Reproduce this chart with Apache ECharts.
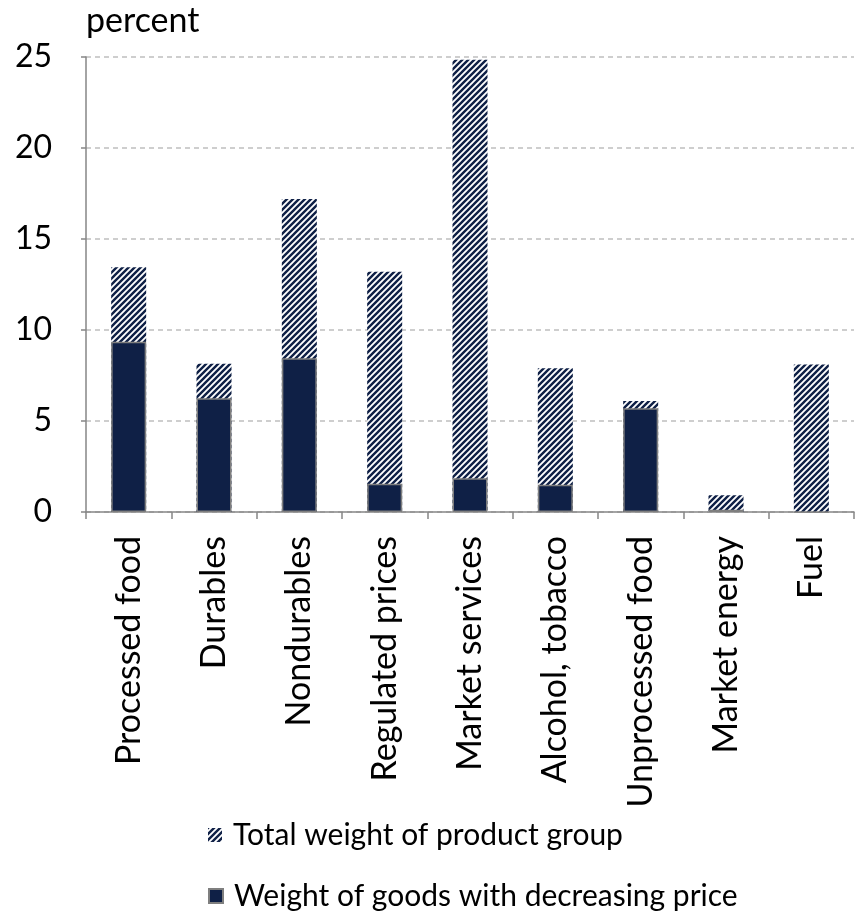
<!DOCTYPE html>
<html>
<head>
<meta charset="utf-8">
<script src="https://cdn.jsdelivr.net/npm/echarts@6/dist/echarts.min.js"></script>
<style>
  html, body { margin: 0; padding: 0; background: #fff; }
  #chart { width: 859px; height: 915px; }
</style>
</head>
<body>
<div id="chart"></div>
<script>
// categories and values
const categories = ['Processed food', 'Durables', 'Nondurables', 'Regulated prices', 'Market services',
    'Alcohol, tobacco', 'Unprocessed food', 'Market energy', 'Fuel']
const totalWeight = [13.45, 8.15, 17.2, 13.2, 24.85, 7.9, 6.1, 0.92, 8.1]
const decreasingWeight = [9.35, 6.25, 8.45, 1.55, 1.85, 1.5, 5.7, 0.12, 0]
const yTicks = [0, 5, 10, 15, 20, 25]

const navy = '#0f2046'
const font = 'Lato, "Open Sans", sans-serif'

// hatch pattern "/" for total weight bars
const makeHatch = () => {
    const s = 6
    const c = document.createElement('canvas')
    c.width = s
    c.height = s
    const ctx = c.getContext('2d')
    ctx.fillStyle = '#fff'
    ctx.fillRect(0, 0, s, s)
    ctx.strokeStyle = navy
    ctx.lineWidth = 2.4
    ctx.beginPath()
    ctx.moveTo(-1, s + 1); ctx.lineTo(s + 1, -1)
    ctx.moveTo(-1, 1); ctx.lineTo(1, -1)
    ctx.moveTo(s - 1, s + 1); ctx.lineTo(s + 1, s - 1)
    ctx.stroke()
    return c
}

const legendText = { fontSize: 30, color: '#000', fontFamily: font, padding: [0, 0, 0, 6] }

const chart = echarts.init(document.getElementById('chart'))

chart.setOption({
    animation: false,
    backgroundColor: '#fff',
    textStyle: { fontFamily: font },
    title: {
        text: 'percent',
        left: 86,
        top: 4,
        padding: 0,
        textStyle: { fontSize: 34, fontWeight: 'normal', color: '#000', fontFamily: font }
    },
    legend: [
        {
            left: 208,
            top: 820,
            padding: 0,
            itemWidth: 14,
            itemHeight: 14,
            icon: 'rect',
            textStyle: legendText,
            data: ['Total weight of product group']
        },
        {
            left: 208,
            top: 881,
            padding: 0,
            itemWidth: 14,
            itemHeight: 14,
            icon: 'rect',
            textStyle: legendText,
            data: ['Weight of goods with decreasing price']
        }
    ],
    grid: { left: 86, right: 5, top: 57, bottom: 403, containLabel: false },
    xAxis: {
        type: 'category',
        data: categories,
        axisLine: { lineStyle: { color: '#868686', width: 1.5 } },
        axisTick: { show: true, length: 7, lineStyle: { color: '#868686', width: 1.5 } },
        axisLabel: { rotate: 90, fontSize: 34, color: '#000', margin: 24, fontFamily: font }
    },
    yAxis: {
        type: 'value',
        min: yTicks[0],
        max: yTicks[yTicks.length - 1],
        interval: 5,
        axisLine: { show: true, lineStyle: { color: '#868686', width: 1.5 } },
        axisTick: { show: true, length: 5, lineStyle: { color: '#868686', width: 1.5 } },
        axisLabel: { fontSize: 32, color: '#000', margin: 34, fontFamily: font },
        splitLine: { lineStyle: { color: '#bfbfbf', type: [5, 4], width: 1.5 } }
    },
    series: [
        {
            name: 'Total weight of product group',
            type: 'bar',
            data: totalWeight,
            barWidth: 35,
            itemStyle: { color: { image: makeHatch(), repeat: 'repeat' } }
        },
        {
            name: 'Weight of goods with decreasing price',
            type: 'bar',
            data: decreasingWeight,
            barWidth: 35,
            barGap: '-100%',
            itemStyle: { color: navy, borderColor: '#7f7f7f', borderWidth: 1.5 }
        }
    ]
})
</script>
</body>
</html>
